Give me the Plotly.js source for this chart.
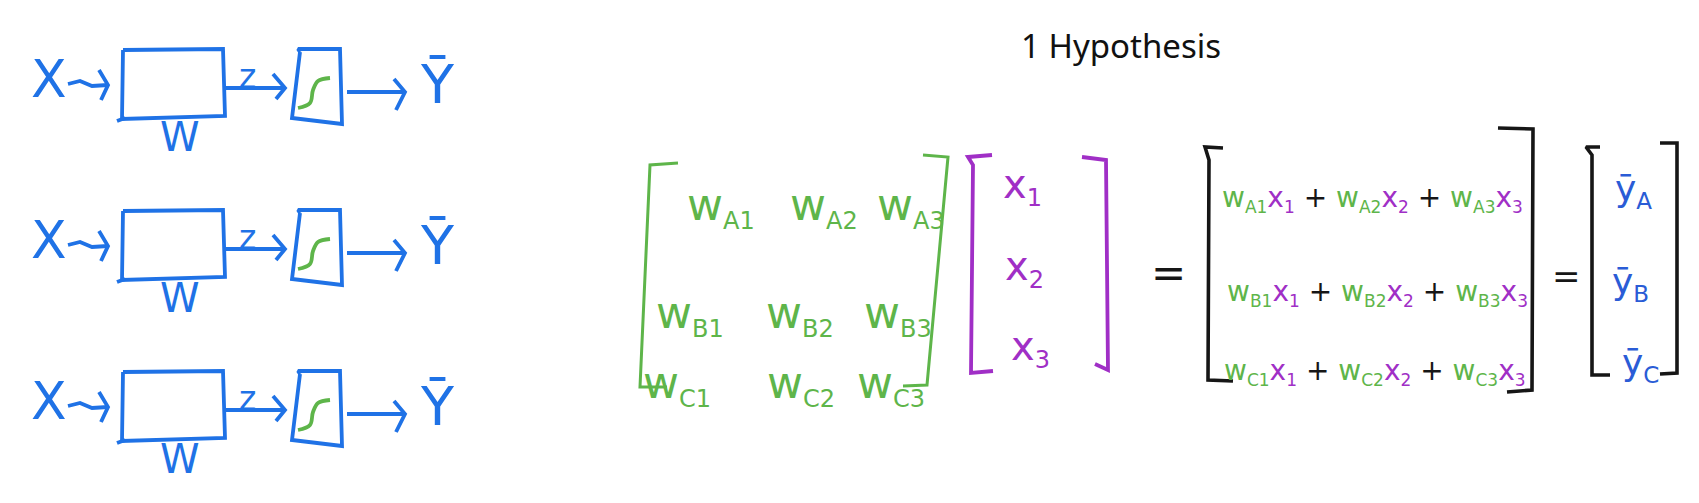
<!DOCTYPE html>
<html><head><meta charset="utf-8">
<script src="https://cdn.plot.ly/plotly-3.0.1.min.js"></script>
<style>html,body{margin:0;padding:0;background:#fff;overflow:hidden}</style>
</head><body>
<div id="chart" style="width:1699px;height:503px"></div>
<script>
// ---------------- content ----------------
const titleText = '1 Hypothesis';
const neuronRows = ['n1', 'n2', 'n3'];      // three identical neuron blocks
const blockInput = 'X';
const blockWeight = 'W';
const blockPre = 'z';
const blockOutput = 'Ȳ';
const outputIds = ['A', 'B', 'C'];
const inputIds = ['1', '2', '3'];
const weightSymbol = 'w';
const inputSymbol = 'x';
const outputSymbol = 'ȳ';
const plusSign = '+';
const equalsSign = '=';

// ---------------- styles ----------------
const BLUE = '#1f72e6', GREEN = '#5eb54a', PURPLE = '#a02fc6', INK = '#161616', YBLUE = '#2a5cd6';
const HAND = 'DejaVu Sans, sans-serif';

// ---------------- geometry (page pixels) ----------------
const rowShift = [0, 161, 322];
const blockBlue = [
  [[68,84],[80,81],[92,86],[108,85]], [[99,70],[108,85],[101,100]],
  [[123,50],[223,49],[225,116],[122,119],[123,50]], [[117,121],[125,118]],
  [[225,88],[285,88]], [[273,74],[285,88],[276,99]],
  [[300,52],[298,49],[340,49],[342,124],[292,118],[300,52]],
  [[347,92],[405,92]], [[394,79],[405,92],[396,110]]
];
const blockGreen = [[[298,108],[310,103],[313,90],[318,81],[330,78]]];
const blockText = [[49,79,52],[180,137,40],[247,76,33],[437,84,54]];

const greenBrackets = [[[678,163],[650,165],[640,387],[667,387]], [[923,155],[948,157],[927,385],[903,386]]];
const purpleBrackets = [[[992,155],[968,157],[973,165],[971,373],[993,371]], [[1082,157],[1106,160],[1108,370],[1095,364]]];
const inkBrackets = [
  [[1223,148],[1205,147],[1209,160],[1208,380],[1233,381]], [[1498,128],[1533,129],[1532,390],[1507,392]],
  [[1600,147],[1586,147],[1592,155],[1592,375],[1610,375]], [[1660,143],[1677,143],[1677,373],[1660,374]]
];
const wEntryX = [[721,824,911],[690,800,898],[677,801,891]];
const wEntryY = [207, 315, 385];
const xEntryPos = [[1022,186],[1024,268],[1030,348]];
const sumRowPos = [[1372,199],[1377,293],[1375,372]];
const yEntryPos = [[1633,191],[1630,284],[1640,365]];
const equalsPos = [[1168,272,42],[1566,276,34]];

// ---------------- build ----------------
function strokes(polys, color, width, shape) {
  const x = [], y = [];
  polys.forEach(p => { p.forEach(pt => { x.push(pt[0]); y.push(pt[1]); }); x.push(null); y.push(null); });
  return {type:'scatter', mode:'lines', x, y, line:{color, width, shape: shape || 'linear'},
          hoverinfo:'skip', showlegend:false, connectgaps:false};
}
const shiftPolys = (polys, dy) => polys.map(p => p.map(pt => [pt[0], pt[1] + dy]));

const traces = [];
const annotations = [];
function ann(text, x, y, size, color, family) {
  annotations.push({text, x, y, xref:'x', yref:'y', showarrow:false, xanchor:'center', yanchor:'middle',
                    font:{size, color, family: family || HAND}});
}
const sub = (t, px) => `<sub><span style="font-size:${px}px">${t}</span></sub>`;
const col = (t, c) => `<span style="color:${c}">${t}</span>`;

neuronRows.forEach((r, i) => {
  const dy = rowShift[i];
  traces.push(strokes(shiftPolys(blockBlue, dy), BLUE, 3.8));
  traces.push(strokes(shiftPolys(blockGreen, dy), GREEN, 3.8, 'spline'));
  const labels = [blockInput, blockWeight, blockPre, blockOutput];
  labels.forEach((t, k) => ann(t, blockText[k][0], blockText[k][1] + dy, blockText[k][2], BLUE));
});

traces.push(strokes(greenBrackets, GREEN, 3));
traces.push(strokes(purpleBrackets, PURPLE, 3.8));
traces.push(strokes(inkBrackets, INK, 3.6));

ann(titleText, 1121, 45, 33, '#111', 'Noto Sans, Open Sans, sans-serif');

outputIds.forEach((rid, i) => {
  inputIds.forEach((cid, j) => {
    ann(weightSymbol + sub(rid + cid, 24), wEntryX[i][j], wEntryY[i], 44, GREEN);
  });
  const terms = inputIds.map(cid =>
    col(weightSymbol + sub(rid + cid, 17), GREEN) + col(inputSymbol + sub(cid, 17), PURPLE));
  ann(terms.join(' ' + col(plusSign, INK) + ' '), sumRowPos[i][0], sumRowPos[i][1], 28, INK);
  ann(outputSymbol + sub(rid, 23), yEntryPos[i][0], yEntryPos[i][1], 36, YBLUE);
});
inputIds.forEach((cid, j) => ann(inputSymbol + sub(cid, 24), xEntryPos[j][0], xEntryPos[j][1], 40, PURPLE));
equalsPos.forEach(p => ann(equalsSign, p[0], p[1], p[2], INK));

const axisBase = {visible:false, showgrid:false, zeroline:false, fixedrange:true};
const layout = {
  width:1699, height:503, autosize:false,
  margin:{l:0, r:0, t:0, b:0, pad:0},
  paper_bgcolor:'#ffffff', plot_bgcolor:'#ffffff',
  xaxis:Object.assign({range:[0,1699]}, axisBase),
  yaxis:Object.assign({range:[503,0]}, axisBase),
  showlegend:false, hovermode:false,
  annotations
};
Plotly.newPlot('chart', traces, layout, {displayModeBar:false, staticPlot:true});
</script>
</body></html>
